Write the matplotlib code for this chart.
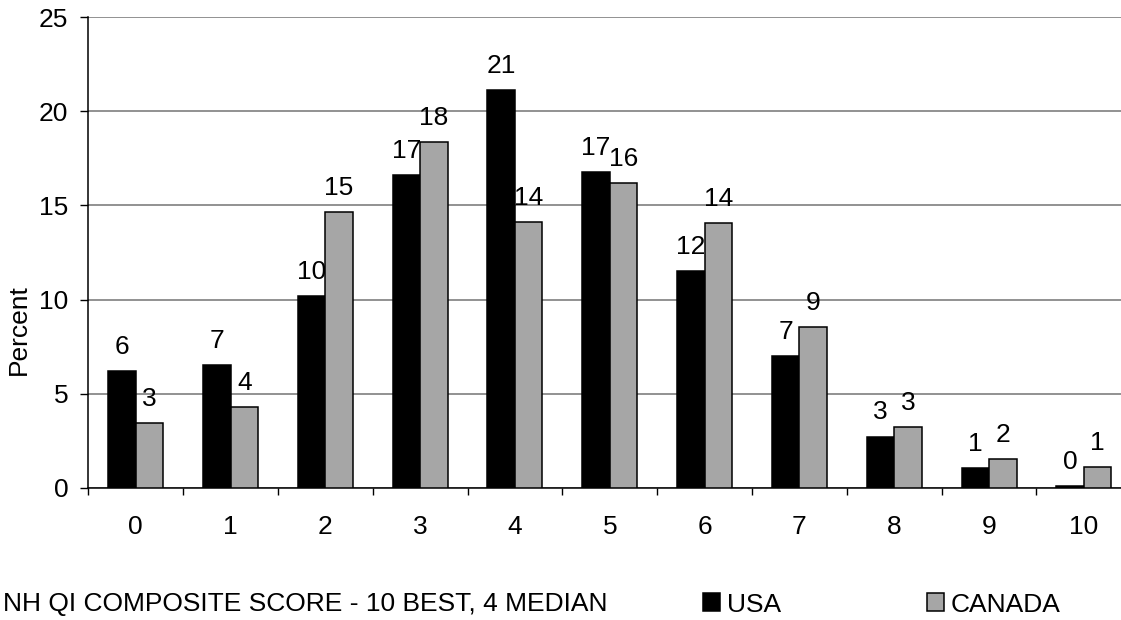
import numpy as np
import matplotlib
matplotlib.use('Agg')
import matplotlib.pyplot as plt

plt.rcParams['font.family'] = ['Liberation Sans', 'DejaVu Sans']

# composite score categories and percent of homes in each
scores = ['0', '1', '2', '3', '4', '5', '6', '7', '8', '9', '10']
usa = [6.21, 6.52, 10.19, 16.60, 21.15, 16.79, 11.52, 7.01, 2.72, 1.06, 0.07]
canada = [3.44, 4.31, 14.64, 18.38, 14.14, 16.19, 14.05, 8.52, 3.20, 1.52, 1.09]
yticks = [0, 5, 10, 15, 20, 25]

x = np.arange(len(scores))
w = 0.29
fs = 19

fig = plt.figure(figsize=(11.21, 6.2), dpi=100)
# plot area runs a little past the right edge of the figure
ax = fig.add_axes([88.3 / 1121, 132.3 / 620, 1043 / 1121, 470.4 / 620])

b1 = ax.bar(x - w / 2, usa, w, color='black', edgecolor='black', linewidth=1.1, zorder=3, label='USA')
b2 = ax.bar(x + w / 2, canada, w, color='#a6a6a6', edgecolor='black', linewidth=1.1, zorder=3, label='CANADA')

# value labels; USA labels sit under the CANADA bars
for xi, v in zip(x - w / 2, usa):
    ax.annotate(f'{v:.0f}', (xi, v), xytext=(0, 12.3), textcoords='offset points',
                ha='center', va='baseline', fontsize=fs, zorder=2.9)
for xi, v in zip(x + w / 2, canada):
    ax.annotate(f'{v:.0f}', (xi, v), xytext=(0, 12.3), textcoords='offset points',
                ha='center', va='baseline', fontsize=fs, zorder=4)

ax.set_xlim(-0.5, len(scores) - 0.5)
ax.set_ylim(0, 25)
ax.set_yticks(yticks)
ax.yaxis.grid(True, color='#7f7f7f', linewidth=1.2)
ax.set_axisbelow(True)

ax.set_xticks(x)
ax.set_xticklabels(scores)
ax.set_xticks(np.arange(len(scores) + 1) - 0.5, minor=True)
ax.tick_params(axis='x', which='major', length=0, pad=20, labelsize=fs)
ax.tick_params(axis='x', which='minor', length=5, width=1, direction='out')
ax.tick_params(axis='y', length=5.8, width=1, pad=8.6, labelsize=fs)

for s in ['top', 'right']:
    ax.spines[s].set_visible(False)
for s in ['left', 'bottom']:
    ax.spines[s].set_color('black')
    ax.spines[s].set_linewidth(1.1)

fig.text(19 / 1121, 1 - 330 / 620, 'Percent', rotation=90, ha='center', va='center', fontsize=fs)
fig.text(3 / 1121, 1 - 604 / 620, 'NH QI COMPOSITE SCORE - 10 BEST, 4 MEDIAN',
         ha='left', va='center', fontsize=fs)

fig.legend(handles=[b1, b2], loc='center left', bbox_to_anchor=(703 / 1121, 1 - 604.5 / 620),
           ncol=2, frameon=False, fontsize=fs, handlelength=0.65, handleheight=0.65,
           handletextpad=0.27, columnspacing=5.5, borderpad=0, borderaxespad=0)

fig.savefig('out.png', dpi=100)
